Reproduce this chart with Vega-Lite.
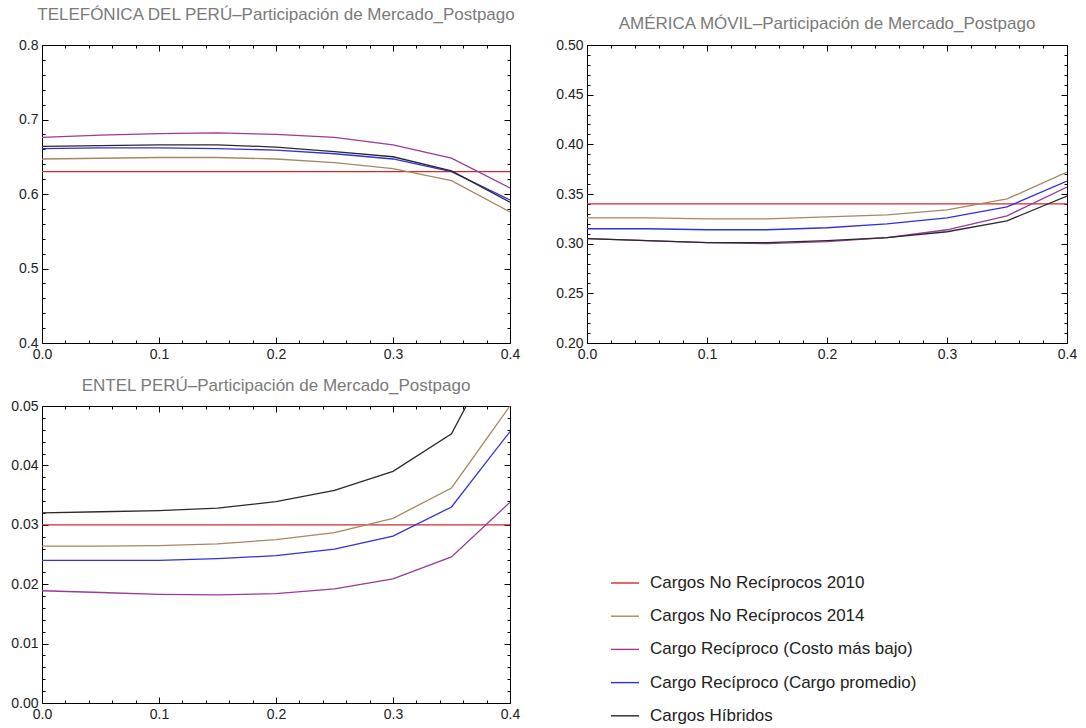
{
  "$schema": "https://vega.github.io/schema/vega-lite/v6.json",
  "padding": {"left": 10, "top": 5, "right": 5, "bottom": 2},
  "background": "white",
  "config": {
    "font": "Liberation Sans",
    "view": {"stroke": "#000000", "strokeWidth": 1},
    "title": {"font": "Liberation Sans", "fontSize": 17, "fontWeight": "normal", "color": "#7a7a7a", "anchor": "middle"},
    "axis": {"labelFont": "Liberation Sans", "labelFontSize": 14, "labelColor": "#222222", "domain": false, "grid": false, "tickColor": "#000000", "tickWidth": 1, "title": null},
    "legend": {
      "orient": "none", "legendX": 568, "legendY": 523, "title": null,
      "symbolType": "stroke", "symbolSize": 784, "symbolStrokeWidth": 1.4,
      "labelFont": "Liberation Sans", "labelFontSize": 17, "labelColor": "#222222", "labelLimit": 0,
      "labelOffset": 10, "rowPadding": 10.2, "padding": 0
    }
  },
  "datasets": {
    "d": [
      {"panel": "T", "series": "Cargos No Recíprocos 2010", "x": 0, "y": 0.63},
      {"panel": "T", "series": "Cargos No Recíprocos 2010", "x": 0.1, "y": 0.63},
      {"panel": "T", "series": "Cargos No Recíprocos 2010", "x": 0.2, "y": 0.63},
      {"panel": "T", "series": "Cargos No Recíprocos 2010", "x": 0.3, "y": 0.63},
      {"panel": "T", "series": "Cargos No Recíprocos 2010", "x": 0.4, "y": 0.63},
      {"panel": "T", "series": "Cargos No Recíprocos 2014", "x": 0, "y": 0.647},
      {"panel": "T", "series": "Cargos No Recíprocos 2014", "x": 0.05, "y": 0.648},
      {"panel": "T", "series": "Cargos No Recíprocos 2014", "x": 0.1, "y": 0.649},
      {"panel": "T", "series": "Cargos No Recíprocos 2014", "x": 0.15, "y": 0.649},
      {"panel": "T", "series": "Cargos No Recíprocos 2014", "x": 0.2, "y": 0.647},
      {"panel": "T", "series": "Cargos No Recíprocos 2014", "x": 0.25, "y": 0.642},
      {"panel": "T", "series": "Cargos No Recíprocos 2014", "x": 0.3, "y": 0.634},
      {"panel": "T", "series": "Cargos No Recíprocos 2014", "x": 0.35, "y": 0.618},
      {"panel": "T", "series": "Cargos No Recíprocos 2014", "x": 0.4, "y": 0.576},
      {"panel": "T", "series": "Cargo Recíproco (Costo más bajo)", "x": 0, "y": 0.676},
      {"panel": "T", "series": "Cargo Recíproco (Costo más bajo)", "x": 0.05, "y": 0.679},
      {"panel": "T", "series": "Cargo Recíproco (Costo más bajo)", "x": 0.1, "y": 0.681},
      {"panel": "T", "series": "Cargo Recíproco (Costo más bajo)", "x": 0.15, "y": 0.682},
      {"panel": "T", "series": "Cargo Recíproco (Costo más bajo)", "x": 0.2, "y": 0.68},
      {"panel": "T", "series": "Cargo Recíproco (Costo más bajo)", "x": 0.25, "y": 0.676},
      {"panel": "T", "series": "Cargo Recíproco (Costo más bajo)", "x": 0.3, "y": 0.666},
      {"panel": "T", "series": "Cargo Recíproco (Costo más bajo)", "x": 0.35, "y": 0.648},
      {"panel": "T", "series": "Cargo Recíproco (Costo más bajo)", "x": 0.4, "y": 0.608},
      {"panel": "T", "series": "Cargo Recíproco (Cargo promedio)", "x": 0, "y": 0.661},
      {"panel": "T", "series": "Cargo Recíproco (Cargo promedio)", "x": 0.05, "y": 0.662},
      {"panel": "T", "series": "Cargo Recíproco (Cargo promedio)", "x": 0.1, "y": 0.662},
      {"panel": "T", "series": "Cargo Recíproco (Cargo promedio)", "x": 0.15, "y": 0.661},
      {"panel": "T", "series": "Cargo Recíproco (Cargo promedio)", "x": 0.2, "y": 0.659},
      {"panel": "T", "series": "Cargo Recíproco (Cargo promedio)", "x": 0.25, "y": 0.654},
      {"panel": "T", "series": "Cargo Recíproco (Cargo promedio)", "x": 0.3, "y": 0.647},
      {"panel": "T", "series": "Cargo Recíproco (Cargo promedio)", "x": 0.35, "y": 0.63},
      {"panel": "T", "series": "Cargo Recíproco (Cargo promedio)", "x": 0.4, "y": 0.592},
      {"panel": "T", "series": "Cargos Híbridos", "x": 0, "y": 0.664},
      {"panel": "T", "series": "Cargos Híbridos", "x": 0.05, "y": 0.665},
      {"panel": "T", "series": "Cargos Híbridos", "x": 0.1, "y": 0.666},
      {"panel": "T", "series": "Cargos Híbridos", "x": 0.15, "y": 0.666},
      {"panel": "T", "series": "Cargos Híbridos", "x": 0.2, "y": 0.663},
      {"panel": "T", "series": "Cargos Híbridos", "x": 0.25, "y": 0.657},
      {"panel": "T", "series": "Cargos Híbridos", "x": 0.3, "y": 0.65},
      {"panel": "T", "series": "Cargos Híbridos", "x": 0.35, "y": 0.631},
      {"panel": "T", "series": "Cargos Híbridos", "x": 0.4, "y": 0.589},

      {"panel": "A", "series": "Cargos No Recíprocos 2010", "x": 0, "y": 0.34},
      {"panel": "A", "series": "Cargos No Recíprocos 2010", "x": 0.1, "y": 0.34},
      {"panel": "A", "series": "Cargos No Recíprocos 2010", "x": 0.2, "y": 0.34},
      {"panel": "A", "series": "Cargos No Recíprocos 2010", "x": 0.3, "y": 0.34},
      {"panel": "A", "series": "Cargos No Recíprocos 2010", "x": 0.4, "y": 0.34},
      {"panel": "A", "series": "Cargos No Recíprocos 2014", "x": 0, "y": 0.326},
      {"panel": "A", "series": "Cargos No Recíprocos 2014", "x": 0.05, "y": 0.326},
      {"panel": "A", "series": "Cargos No Recíprocos 2014", "x": 0.1, "y": 0.325},
      {"panel": "A", "series": "Cargos No Recíprocos 2014", "x": 0.15, "y": 0.325},
      {"panel": "A", "series": "Cargos No Recíprocos 2014", "x": 0.2, "y": 0.327},
      {"panel": "A", "series": "Cargos No Recíprocos 2014", "x": 0.25, "y": 0.329},
      {"panel": "A", "series": "Cargos No Recíprocos 2014", "x": 0.3, "y": 0.334},
      {"panel": "A", "series": "Cargos No Recíprocos 2014", "x": 0.35, "y": 0.345},
      {"panel": "A", "series": "Cargos No Recíprocos 2014", "x": 0.4, "y": 0.372},
      {"panel": "A", "series": "Cargo Recíproco (Costo más bajo)", "x": 0, "y": 0.305},
      {"panel": "A", "series": "Cargo Recíproco (Costo más bajo)", "x": 0.05, "y": 0.303},
      {"panel": "A", "series": "Cargo Recíproco (Costo más bajo)", "x": 0.1, "y": 0.301},
      {"panel": "A", "series": "Cargo Recíproco (Costo más bajo)", "x": 0.15, "y": 0.3},
      {"panel": "A", "series": "Cargo Recíproco (Costo más bajo)", "x": 0.2, "y": 0.302},
      {"panel": "A", "series": "Cargo Recíproco (Costo más bajo)", "x": 0.25, "y": 0.306},
      {"panel": "A", "series": "Cargo Recíproco (Costo más bajo)", "x": 0.3, "y": 0.314},
      {"panel": "A", "series": "Cargo Recíproco (Costo más bajo)", "x": 0.35, "y": 0.328},
      {"panel": "A", "series": "Cargo Recíproco (Costo más bajo)", "x": 0.4, "y": 0.357},
      {"panel": "A", "series": "Cargo Recíproco (Cargo promedio)", "x": 0, "y": 0.315},
      {"panel": "A", "series": "Cargo Recíproco (Cargo promedio)", "x": 0.05, "y": 0.315},
      {"panel": "A", "series": "Cargo Recíproco (Cargo promedio)", "x": 0.1, "y": 0.314},
      {"panel": "A", "series": "Cargo Recíproco (Cargo promedio)", "x": 0.15, "y": 0.314},
      {"panel": "A", "series": "Cargo Recíproco (Cargo promedio)", "x": 0.2, "y": 0.316},
      {"panel": "A", "series": "Cargo Recíproco (Cargo promedio)", "x": 0.25, "y": 0.32},
      {"panel": "A", "series": "Cargo Recíproco (Cargo promedio)", "x": 0.3, "y": 0.326},
      {"panel": "A", "series": "Cargo Recíproco (Cargo promedio)", "x": 0.35, "y": 0.337},
      {"panel": "A", "series": "Cargo Recíproco (Cargo promedio)", "x": 0.4, "y": 0.363},
      {"panel": "A", "series": "Cargos Híbridos", "x": 0, "y": 0.305},
      {"panel": "A", "series": "Cargos Híbridos", "x": 0.05, "y": 0.303},
      {"panel": "A", "series": "Cargos Híbridos", "x": 0.1, "y": 0.301},
      {"panel": "A", "series": "Cargos Híbridos", "x": 0.15, "y": 0.301},
      {"panel": "A", "series": "Cargos Híbridos", "x": 0.2, "y": 0.303},
      {"panel": "A", "series": "Cargos Híbridos", "x": 0.25, "y": 0.306},
      {"panel": "A", "series": "Cargos Híbridos", "x": 0.3, "y": 0.312},
      {"panel": "A", "series": "Cargos Híbridos", "x": 0.35, "y": 0.323},
      {"panel": "A", "series": "Cargos Híbridos", "x": 0.4, "y": 0.348},

      {"panel": "E", "series": "Cargos No Recíprocos 2010", "x": 0, "y": 0.03},
      {"panel": "E", "series": "Cargos No Recíprocos 2010", "x": 0.1, "y": 0.03},
      {"panel": "E", "series": "Cargos No Recíprocos 2010", "x": 0.2, "y": 0.03},
      {"panel": "E", "series": "Cargos No Recíprocos 2010", "x": 0.3, "y": 0.03},
      {"panel": "E", "series": "Cargos No Recíprocos 2010", "x": 0.4, "y": 0.03},
      {"panel": "E", "series": "Cargos No Recíprocos 2014", "x": 0, "y": 0.0264},
      {"panel": "E", "series": "Cargos No Recíprocos 2014", "x": 0.05, "y": 0.0264},
      {"panel": "E", "series": "Cargos No Recíprocos 2014", "x": 0.1, "y": 0.0265},
      {"panel": "E", "series": "Cargos No Recíprocos 2014", "x": 0.15, "y": 0.0268},
      {"panel": "E", "series": "Cargos No Recíprocos 2014", "x": 0.2, "y": 0.0275},
      {"panel": "E", "series": "Cargos No Recíprocos 2014", "x": 0.25, "y": 0.0287},
      {"panel": "E", "series": "Cargos No Recíprocos 2014", "x": 0.3, "y": 0.0311},
      {"panel": "E", "series": "Cargos No Recíprocos 2014", "x": 0.35, "y": 0.0362},
      {"panel": "E", "series": "Cargos No Recíprocos 2014", "x": 0.4, "y": 0.05},
      {"panel": "E", "series": "Cargo Recíproco (Costo más bajo)", "x": 0, "y": 0.0189},
      {"panel": "E", "series": "Cargo Recíproco (Costo más bajo)", "x": 0.05, "y": 0.0186},
      {"panel": "E", "series": "Cargo Recíproco (Costo más bajo)", "x": 0.1, "y": 0.0183},
      {"panel": "E", "series": "Cargo Recíproco (Costo más bajo)", "x": 0.15, "y": 0.0182},
      {"panel": "E", "series": "Cargo Recíproco (Costo más bajo)", "x": 0.2, "y": 0.0184},
      {"panel": "E", "series": "Cargo Recíproco (Costo más bajo)", "x": 0.25, "y": 0.0192},
      {"panel": "E", "series": "Cargo Recíproco (Costo más bajo)", "x": 0.3, "y": 0.0209},
      {"panel": "E", "series": "Cargo Recíproco (Costo más bajo)", "x": 0.35, "y": 0.0246},
      {"panel": "E", "series": "Cargo Recíproco (Costo más bajo)", "x": 0.4, "y": 0.0338},
      {"panel": "E", "series": "Cargo Recíproco (Cargo promedio)", "x": 0, "y": 0.024},
      {"panel": "E", "series": "Cargo Recíproco (Cargo promedio)", "x": 0.05, "y": 0.024},
      {"panel": "E", "series": "Cargo Recíproco (Cargo promedio)", "x": 0.1, "y": 0.024},
      {"panel": "E", "series": "Cargo Recíproco (Cargo promedio)", "x": 0.15, "y": 0.0243},
      {"panel": "E", "series": "Cargo Recíproco (Cargo promedio)", "x": 0.2, "y": 0.0248},
      {"panel": "E", "series": "Cargo Recíproco (Cargo promedio)", "x": 0.25, "y": 0.0259},
      {"panel": "E", "series": "Cargo Recíproco (Cargo promedio)", "x": 0.3, "y": 0.0281},
      {"panel": "E", "series": "Cargo Recíproco (Cargo promedio)", "x": 0.35, "y": 0.033},
      {"panel": "E", "series": "Cargo Recíproco (Cargo promedio)", "x": 0.4, "y": 0.0457},
      {"panel": "E", "series": "Cargos Híbridos", "x": 0, "y": 0.032},
      {"panel": "E", "series": "Cargos Híbridos", "x": 0.05, "y": 0.0322},
      {"panel": "E", "series": "Cargos Híbridos", "x": 0.1, "y": 0.0324},
      {"panel": "E", "series": "Cargos Híbridos", "x": 0.15, "y": 0.0328},
      {"panel": "E", "series": "Cargos Híbridos", "x": 0.2, "y": 0.0339},
      {"panel": "E", "series": "Cargos Híbridos", "x": 0.25, "y": 0.0358},
      {"panel": "E", "series": "Cargos Híbridos", "x": 0.3, "y": 0.039},
      {"panel": "E", "series": "Cargos Híbridos", "x": 0.35, "y": 0.0453},
      {"panel": "E", "series": "Cargos Híbridos", "x": 0.4, "y": 0.064}
    ]
  },
  "resolve": {"scale": {"color": "shared"}, "legend": {"color": "shared"}},
  "spacing": 14,
  "vconcat": [
    {
      "spacing": 34,
      "resolve": {"scale": {"color": "shared"}, "legend": {"color": "shared"}},
      "hconcat": [
        {
          "width": 468, "height": 298,
          "title": {"text": "TELEFÓNICA DEL PERÚ–Participación de Mercado_Postpago", "offset": 14},
          "data": {"name": "d"},
          "transform": [{"filter": "datum.panel === 'T'"}],
          "resolve": {"axis": {"x": "independent", "y": "independent"}},
          "layer": [
            {
              "mark": {"type": "line", "clip": true, "strokeWidth": 1.3},
              "encoding": {
                "x": {"field": "x", "type": "quantitative", "scale": {"domain": [0, 0.4], "nice": false, "zero": false},
                  "axis": {"orient": "bottom", "values": [0,0.02,0.04,0.06,0.08,0.1,0.12,0.14,0.16,0.18,0.2,0.22,0.24,0.26,0.28,0.3,0.32,0.34,0.36,0.38,0.4],
                    "labelExpr": "abs(datum.value*10 - round(datum.value*10)) < 0.001 ? format(datum.value, '.1f') : ''",
                    "tickSize": {"condition": {"test": "abs(datum.value*10 - round(datum.value*10)) < 0.001", "value": -6}, "value": -3},
                    "labelPadding": 10, "labelFlush": false}},
                "y": {"field": "y", "type": "quantitative", "scale": {"domain": [0.4, 0.8], "nice": false, "zero": false},
                  "axis": {"orient": "left", "values": [0.4,0.42,0.44,0.46,0.48,0.5,0.52,0.54,0.56,0.58,0.6,0.62,0.64,0.66,0.68,0.7,0.72,0.74,0.76,0.78,0.8],
                    "labelExpr": "abs(datum.value*10 - round(datum.value*10)) < 0.001 ? format(datum.value, '.1f') : ''",
                    "tickSize": {"condition": {"test": "abs(datum.value*10 - round(datum.value*10)) < 0.001", "value": -6}, "value": -3},
                    "labelPadding": 10, "labelFlush": false}},
                "color": {"field": "series", "type": "nominal",
                  "scale": {"domain": ["Cargos No Recíprocos 2010", "Cargos No Recíprocos 2014", "Cargo Recíproco (Costo más bajo)", "Cargo Recíproco (Cargo promedio)", "Cargos Híbridos"],
                            "range": ["#d42a2a", "#a8875f", "#9a3a9a", "#3030e0", "#2a2a2a"]}}
              }
            },
            {
              "mark": {"type": "point", "opacity": 0, "clip": true},
              "encoding": {
                "x": {"field": "x", "type": "quantitative",
                  "axis": {"orient": "top", "labels": false, "values": [0,0.02,0.04,0.06,0.08,0.1,0.12,0.14,0.16,0.18,0.2,0.22,0.24,0.26,0.28,0.3,0.32,0.34,0.36,0.38,0.4],
                    "tickSize": {"condition": {"test": "abs(datum.value*10 - round(datum.value*10)) < 0.001", "value": -6}, "value": -3}}},
                "y": {"field": "y", "type": "quantitative",
                  "axis": {"orient": "right", "labels": false, "values": [0.4,0.42,0.44,0.46,0.48,0.5,0.52,0.54,0.56,0.58,0.6,0.62,0.64,0.66,0.68,0.7,0.72,0.74,0.76,0.78,0.8],
                    "tickSize": {"condition": {"test": "abs(datum.value*10 - round(datum.value*10)) < 0.001", "value": -6}, "value": -3}}}
              }
            }
          ]
        },
        {
          "width": 480, "height": 298,
          "title": {"text": "AMÉRICA MÓVIL–Participación de Mercado_Postpago", "offset": 5},
          "data": {"name": "d"},
          "transform": [{"filter": "datum.panel === 'A'"}],
          "resolve": {"axis": {"x": "independent", "y": "independent"}},
          "layer": [
            {
              "mark": {"type": "line", "clip": true, "strokeWidth": 1.3},
              "encoding": {
                "x": {"field": "x", "type": "quantitative", "scale": {"domain": [0, 0.4], "nice": false, "zero": false},
                  "axis": {"orient": "bottom", "values": [0,0.02,0.04,0.06,0.08,0.1,0.12,0.14,0.16,0.18,0.2,0.22,0.24,0.26,0.28,0.3,0.32,0.34,0.36,0.38,0.4],
                    "labelExpr": "abs(datum.value*10 - round(datum.value*10)) < 0.001 ? format(datum.value, '.1f') : ''",
                    "tickSize": {"condition": {"test": "abs(datum.value*10 - round(datum.value*10)) < 0.001", "value": -6}, "value": -3},
                    "labelPadding": 10, "labelFlush": false}},
                "y": {"field": "y", "type": "quantitative", "scale": {"domain": [0.2, 0.5], "nice": false, "zero": false},
                  "axis": {"orient": "left", "values": [0.2,0.21,0.22,0.23,0.24,0.25,0.26,0.27,0.28,0.29,0.3,0.31,0.32,0.33,0.34,0.35,0.36,0.37,0.38,0.39,0.4,0.41,0.42,0.43,0.44,0.45,0.46,0.47,0.48,0.49,0.5],
                    "labelExpr": "abs(datum.value*20 - round(datum.value*20)) < 0.001 ? format(datum.value, '.2f') : ''",
                    "tickSize": {"condition": {"test": "abs(datum.value*20 - round(datum.value*20)) < 0.001", "value": -6}, "value": -3},
                    "labelPadding": 10, "labelFlush": false}},
                "color": {"field": "series", "type": "nominal",
                  "scale": {"domain": ["Cargos No Recíprocos 2010", "Cargos No Recíprocos 2014", "Cargo Recíproco (Costo más bajo)", "Cargo Recíproco (Cargo promedio)", "Cargos Híbridos"],
                            "range": ["#d42a2a", "#a8875f", "#9a3a9a", "#3030e0", "#2a2a2a"]}}
              }
            },
            {
              "mark": {"type": "point", "opacity": 0, "clip": true},
              "encoding": {
                "x": {"field": "x", "type": "quantitative",
                  "axis": {"orient": "top", "labels": false, "values": [0,0.02,0.04,0.06,0.08,0.1,0.12,0.14,0.16,0.18,0.2,0.22,0.24,0.26,0.28,0.3,0.32,0.34,0.36,0.38,0.4],
                    "tickSize": {"condition": {"test": "abs(datum.value*10 - round(datum.value*10)) < 0.001", "value": -6}, "value": -3}}},
                "y": {"field": "y", "type": "quantitative",
                  "axis": {"orient": "right", "labels": false, "values": [0.2,0.21,0.22,0.23,0.24,0.25,0.26,0.27,0.28,0.29,0.3,0.31,0.32,0.33,0.34,0.35,0.36,0.37,0.38,0.39,0.4,0.41,0.42,0.43,0.44,0.45,0.46,0.47,0.48,0.49,0.5],
                    "tickSize": {"condition": {"test": "abs(datum.value*20 - round(datum.value*20)) < 0.001", "value": -6}, "value": -3}}}
              }
            }
          ]
        }
      ]
    },
    {
      "resolve": {"scale": {"color": "shared"}, "legend": {"color": "shared"}},
      "hconcat": [
        {
          "width": 468, "height": 297,
          "title": {"text": "ENTEL PERÚ–Participación de Mercado_Postpago", "offset": 4},
          "data": {"name": "d"},
          "transform": [{"filter": "datum.panel === 'E'"}],
          "resolve": {"axis": {"x": "independent", "y": "independent"}},
          "layer": [
            {
              "mark": {"type": "line", "clip": true, "strokeWidth": 1.3},
              "encoding": {
                "x": {"field": "x", "type": "quantitative", "scale": {"domain": [0, 0.4], "nice": false, "zero": false},
                  "axis": {"orient": "bottom", "values": [0,0.02,0.04,0.06,0.08,0.1,0.12,0.14,0.16,0.18,0.2,0.22,0.24,0.26,0.28,0.3,0.32,0.34,0.36,0.38,0.4],
                    "labelExpr": "abs(datum.value*10 - round(datum.value*10)) < 0.001 ? format(datum.value, '.1f') : ''",
                    "tickSize": {"condition": {"test": "abs(datum.value*10 - round(datum.value*10)) < 0.001", "value": -6}, "value": -3},
                    "labelPadding": 10, "labelFlush": false}},
                "y": {"field": "y", "type": "quantitative", "scale": {"domain": [0, 0.05], "nice": false, "zero": false},
                  "axis": {"orient": "left", "values": [0,0.002,0.004,0.006,0.008,0.01,0.012,0.014,0.016,0.018,0.02,0.022,0.024,0.026,0.028,0.03,0.032,0.034,0.036,0.038,0.04,0.042,0.044,0.046,0.048,0.05],
                    "labelExpr": "abs(datum.value*100 - round(datum.value*100)) < 0.001 ? format(datum.value, '.2f') : ''",
                    "tickSize": {"condition": {"test": "abs(datum.value*100 - round(datum.value*100)) < 0.001", "value": -6}, "value": -3},
                    "labelPadding": 10, "labelFlush": false}},
                "color": {"field": "series", "type": "nominal",
                  "scale": {"domain": ["Cargos No Recíprocos 2010", "Cargos No Recíprocos 2014", "Cargo Recíproco (Costo más bajo)", "Cargo Recíproco (Cargo promedio)", "Cargos Híbridos"],
                            "range": ["#d42a2a", "#a8875f", "#9a3a9a", "#3030e0", "#2a2a2a"]}}
              }
            },
            {
              "mark": {"type": "point", "opacity": 0, "clip": true},
              "encoding": {
                "x": {"field": "x", "type": "quantitative",
                  "axis": {"orient": "top", "labels": false, "values": [0,0.02,0.04,0.06,0.08,0.1,0.12,0.14,0.16,0.18,0.2,0.22,0.24,0.26,0.28,0.3,0.32,0.34,0.36,0.38,0.4],
                    "tickSize": {"condition": {"test": "abs(datum.value*10 - round(datum.value*10)) < 0.001", "value": -6}, "value": -3}}},
                "y": {"field": "y", "type": "quantitative",
                  "axis": {"orient": "right", "labels": false, "values": [0,0.002,0.004,0.006,0.008,0.01,0.012,0.014,0.016,0.018,0.02,0.022,0.024,0.026,0.028,0.03,0.032,0.034,0.036,0.038,0.04,0.042,0.044,0.046,0.048,0.05],
                    "tickSize": {"condition": {"test": "abs(datum.value*100 - round(datum.value*100)) < 0.001", "value": -6}, "value": -3}}}
              }
            }
          ]
        }
      ]
    }
  ]
}
